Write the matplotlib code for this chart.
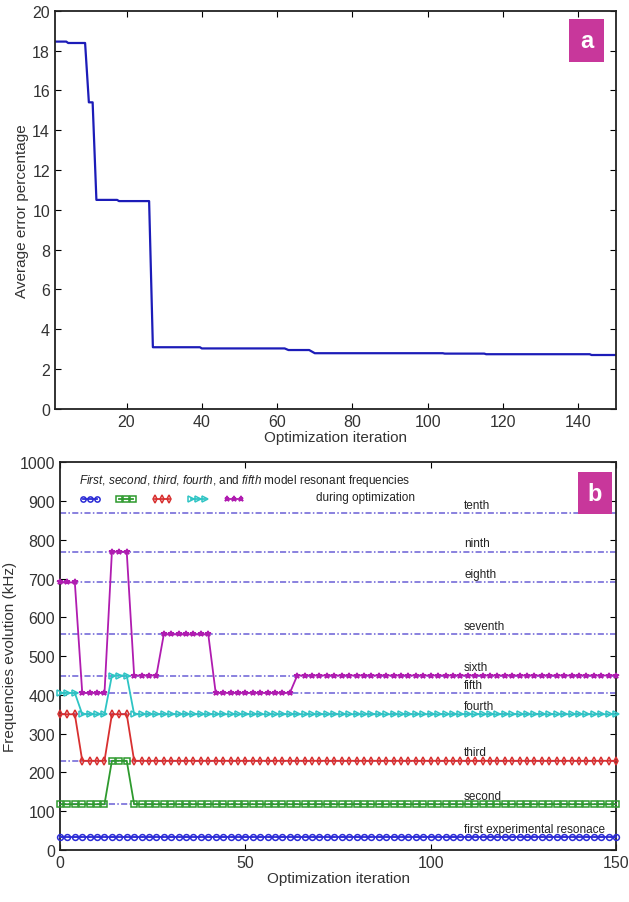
import numpy as np
import matplotlib.pyplot as plt
from matplotlib.patches import Rectangle

plt.rcParams["font.family"] = ["Liberation Sans", "DejaVu Sans"]
plt.rcParams["mathtext.fontset"] = "custom"
plt.rcParams["mathtext.rm"] = "Liberation Sans"
plt.rcParams["mathtext.it"] = "Liberation Sans:italic"

# panel a: average error vs iteration (vertices of the stepped curve)
err_iter = [1, 4, 4.5, 9, 10, 11, 12, 17.5, 18, 26, 27, 39.5, 40, 62, 63,
            68.5, 70, 104, 104.5, 115, 115.5, 143, 143.5, 150]
err_pct = [18.45, 18.45, 18.38, 18.38, 15.4, 15.4, 10.5, 10.5, 10.44, 10.44,
           3.1, 3.1, 3.04, 3.04, 2.96, 2.96, 2.8, 2.8, 2.78, 2.78, 2.75, 2.75,
           2.71, 2.71]

# panel b: model resonant frequencies, sampled every 2nd iteration
iteration = np.arange(0, 151, 2)
first_mode = [33] * 76
second_mode = [118] * 7 + [230] * 3 + [118] * 66
third_mode = [350] * 3 + [230] * 4 + [350] * 3 + [230] * 66
fourth_mode = [405] * 3 + [350] * 4 + [450] * 3 + [350] * 66
fifth_mode = [690] * 3 + [405] * 4 + [769] * 3 + [450] * 4 + [556] * 7 + [405] * 11 + [450] * 44

# experimental resonances
ref_names = ["first experimental resonace", "second", "third", "fourth", "fifth",
             "sixth", "seventh", "eighth", "ninth", "tenth"]
ref_freqs = [33, 118, 230, 350, 405, 450, 556, 690, 769, 868]

badge_color = "#c8379b"
ref_color = "#6a5fd6"
tick_color = "#333333"


def style_axes(ax):
    ax.tick_params(direction="in", top=True, right=True, labelsize=11.5,
                   labelcolor=tick_color, length=4, width=0.8)
    for spine in ax.spines.values():
        spine.set_linewidth(1.3)
        spine.set_color("#222222")


def add_badge(ax, letter, x, y):
    w, h = 0.062, 0.108
    ax.add_patch(Rectangle((x - w / 2, y - h / 2), w, h, transform=ax.transAxes,
                           facecolor=badge_color, edgecolor="none", zorder=5))
    ax.text(x, y, letter, transform=ax.transAxes, color="white", fontsize=17,
            fontweight="bold", ha="center", va="center", zorder=6)


fig = plt.figure(figsize=(6.29, 9.03), dpi=100)

# --- panel a ---
ax1 = fig.add_axes([0.0874, 0.546, 0.892, 0.441])
ax1.plot(err_iter, err_pct, color="#1c1cb8", lw=1.6)
ax1.set_xlim(1, 150)
ax1.set_ylim(0, 20)
ax1.set_xticks(range(20, 141, 20))
ax1.set_yticks(range(0, 21, 2))
ax1.set_xlabel("Optimization iteration", fontsize=11, color=tick_color, labelpad=1)
ax1.set_ylabel("Average error percentage", fontsize=11, color=tick_color, labelpad=2)
style_axes(ax1)
add_badge(ax1, "a", 0.948, 0.925)

# --- panel b ---
ax2 = fig.add_axes([0.0954, 0.0576, 0.884, 0.4294])
for name, f in zip(ref_names, ref_freqs):
    ax2.axhline(f, color=ref_color, lw=1.1, ls=(0, (4, 1.5, 1, 1.5)), zorder=1)
    ax2.annotate(name, (109, f), xytext=(0, 6), textcoords="offset points",
                 fontsize=8.5, color="#222222", va="center", ha="left")

series = [
    (first_mode, "#2b2bd6", "o", "none"),
    (second_mode, "#2e9a2e", "s", "none"),
    (third_mode, "#d83030", "d", "none"),
    (fourth_mode, "#2ec4c4", ">", "none"),
    (fifth_mode, "#b01cb0", "*", "#b01cb0"),
]
handles = []
for vals, color, marker, face in series:
    (line,) = ax2.plot(iteration, vals, color=color, lw=1.3, marker=marker,
                       markersize=4.2, markerfacecolor=face, markeredgewidth=1.1,
                       zorder=3, clip_on=False)
    handles.append(line)

leg = ax2.legend(handles, [""] * 5, ncol=5, loc="upper left",
                 bbox_to_anchor=(0.035, 0.975), borderaxespad=0, borderpad=0,
                 frameon=False, numpoints=3, fontsize=8.5, handlelength=1.8,
                 handleheight=0.5, handletextpad=0, columnspacing=1.25,
                 markerscale=0.9, alignment="left", title_fontsize=8.5,
                 title=r"$\it{First}$, $\it{second}$, $\it{third}$, $\it{fourth}$, "
                       r"and $\it{fifth}$ model resonant frequencies")
leg.get_title().set_color("#222222")
ax2.text(0.638, 0.91, "during optimization", transform=ax2.transAxes,
         fontsize=8.5, color="#222222", ha="right", va="center")

ax2.set_xlim(0, 150)
ax2.set_ylim(0, 1000)
ax2.set_xticks([0, 50, 100, 150])
ax2.set_yticks(range(0, 1001, 100))
ax2.set_xlabel("Optimization iteration", fontsize=11, color=tick_color, labelpad=1)
ax2.set_ylabel("Frequencies evolution (kHz)", fontsize=11, color=tick_color, labelpad=2)
style_axes(ax2)
add_badge(ax2, "b", 0.962, 0.92)

fig.savefig("out.png", dpi=100)
